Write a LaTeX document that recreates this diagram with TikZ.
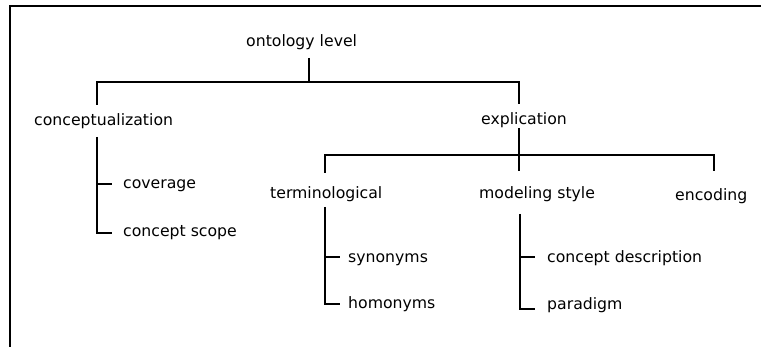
\documentclass[tikz,border=0pt]{standalone}
\usepackage{fontspec}
\setmainfont{DejaVu Sans}
\begin{document}
\begin{tikzpicture}[x=1pt,y=-1pt,
  txt/.style={anchor=base west,inner sep=0pt,font=\fontsize{15.7}{18}\selectfont},
  link/.style={line width=2pt,line join=miter},
  frame/.style={line width=2pt}]
\useasboundingbox (0,0) rectangle (761,347);

% open frame: left and top edges
\draw[frame] (10,347) -- (10,6) -- (761,6);

% labels
\node[txt] (onto)  at (246,47)  {ontology level};
\node[txt] (conc)  at (34,126)  {conceptualization};
\node[txt] (expl)  at (481,125) {explication};
\node[txt] (cov)   at (123,189) {coverage};
\node[txt] (cscope) at (123,237) {concept scope};
\node[txt] (term)  at (270,199) {terminological};
\node[txt] (model) at (479,199) {modeling style};
\node[txt] (enc)   at (675,201) {encoding};
\node[txt] (syn)   at (348,263) {synonyms};
\node[txt] (hom)   at (348,309) {homonyms};
\node[txt] (cdesc) at (547,263) {concept description};
\node[txt] (para)  at (547,310) {paradigm};

% junction points of the tree
\coordinate (ontoStub) at (309,58);
\coordinate (rootJ)    at (309,82);
\coordinate (concLeg)  at (97,105);
\coordinate (explLeg)  at (519,104);

\coordinate (concTop)  at (97,137);
\coordinate (covJ)     at (97,184);
\coordinate (covEnd)   at (112,184);
\coordinate (cscEnd)   at (112,233);

\coordinate (explTop)  at (519,128);
\coordinate (explJ)    at (519,155);
\coordinate (modelLeg) at (519,171);
\coordinate (termLeg)  at (325,173);
\coordinate (encLeg)   at (714,171);

\coordinate (termTop)  at (325,207);
\coordinate (synJ)     at (325,257);
\coordinate (synEnd)   at (340,257);
\coordinate (homEnd)   at (340,304);

\coordinate (modelTop) at (520,214);
\coordinate (cdJ)      at (520,257);
\coordinate (cdEnd)    at (535,257);
\coordinate (paraEnd)  at (535,309);

% ontology level -> conceptualization, explication
\draw[link] (ontoStub) -- (rootJ);
\draw[link] (concLeg) |- (rootJ) -| (explLeg);

% conceptualization -> coverage, concept scope
\draw[link] (concTop) |- (cscEnd);
\draw[link] (covJ) -- (covEnd);

% explication -> terminological, modeling style, encoding
\draw[link] (explTop) -- (modelLeg);
\draw[link] (termLeg) |- (explJ) -| (encLeg);

% terminological -> synonyms, homonyms
\draw[link] (termTop) |- (homEnd);
\draw[link] (synJ) -- (synEnd);

% modeling style -> concept description, paradigm
\draw[link] (modelTop) |- (paraEnd);
\draw[link] (cdJ) -- (cdEnd);
\end{tikzpicture}
\end{document}
